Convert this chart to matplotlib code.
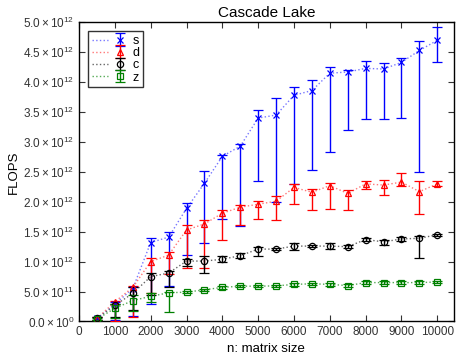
import matplotlib
matplotlib.use('Agg')
import matplotlib.pyplot as plt
from matplotlib.legend_handler import HandlerTuple
import numpy as np

plt.rcParams['font.family'] = ['Liberation Sans', 'DejaVu Sans']
plt.rcParams['mathtext.fontset'] = 'custom'
plt.rcParams['mathtext.rm'] = 'Liberation Sans'
plt.rcParams['mathtext.it'] = 'Liberation Sans'

# matrix sizes
n = [500, 1000, 1500, 2000, 2500, 3000, 3500, 4000, 4500, 5000,
     5500, 6000, 6500, 7000, 7500, 8000, 8500, 9000, 9500, 10000]

# FLOPS in units of 1e12: mean, lower end, upper end of error bar
s_mean = [0.05, 0.29, 0.55, 1.32, 1.41, 1.89, 2.31, 2.76, 2.93, 3.40,
          3.45, 3.78, 3.86, 4.15, 4.17, 4.23, 4.22, 4.33, 4.53, 4.70]
s_low = [0.03, 0.03, 0.09, 0.30, 0.59, 1.11, 1.32, 1.72, 1.59, 2.35,
         2.00, 2.30, 2.53, 2.83, 3.20, 3.38, 3.39, 3.40, 2.50, 4.34]
s_high = [0.07, 0.32, 0.58, 1.39, 1.49, 1.98, 2.51, 2.79, 2.96, 3.53,
          3.73, 3.92, 4.03, 4.25, 4.21, 4.35, 4.32, 4.40, 4.68, 4.92]

d_mean = [0.05, 0.33, 0.57, 1.00, 1.11, 1.53, 1.63, 1.81, 1.91, 1.96,
          2.01, 2.24, 2.16, 2.27, 2.14, 2.30, 2.28, 2.33, 2.17, 2.30]
d_low = [0.03, 0.01, 0.08, 0.47, 0.79, 0.89, 0.89, 1.37, 1.61, 1.71,
         1.69, 1.97, 1.87, 1.88, 1.86, 2.21, 2.12, 2.27, 1.80, 2.26]
d_high = [0.07, 0.35, 0.60, 1.06, 1.16, 1.61, 1.70, 1.87, 1.95, 2.02,
          2.09, 2.30, 2.21, 2.31, 2.19, 2.34, 2.36, 2.48, 2.34, 2.34]

c_mean = [0.05, 0.27, 0.47, 0.75, 0.81, 1.01, 1.01, 1.04, 1.10, 1.21,
          1.21, 1.26, 1.26, 1.26, 1.25, 1.37, 1.33, 1.38, 1.39, 1.45]
c_low = [0.03, 0.08, 0.19, 0.44, 0.58, 0.92, 0.81, 1.00, 1.06, 1.10,
         1.19, 1.20, 1.24, 1.21, 1.22, 1.34, 1.27, 1.34, 1.06, 1.43]
c_high = [0.07, 0.30, 0.57, 0.81, 0.84, 1.05, 1.09, 1.09, 1.14, 1.24,
          1.23, 1.31, 1.28, 1.31, 1.28, 1.40, 1.37, 1.42, 1.43, 1.47]

z_mean = [0.04, 0.22, 0.35, 0.42, 0.48, 0.49, 0.53, 0.57, 0.59, 0.59,
          0.595, 0.62, 0.63, 0.62, 0.60, 0.65, 0.65, 0.65, 0.65, 0.66]
z_low = [0.02, 0.05, 0.18, 0.33, 0.16, 0.47, 0.51, 0.55, 0.57, 0.57,
         0.58, 0.60, 0.61, 0.60, 0.58, 0.63, 0.63, 0.63, 0.63, 0.64]
z_high = [0.06, 0.29, 0.44, 0.47, 0.50, 0.51, 0.55, 0.59, 0.61, 0.61,
          0.61, 0.64, 0.65, 0.64, 0.62, 0.67, 0.67, 0.67, 0.67, 0.68]

series = [
    ('s', s_mean, s_low, s_high, 'blue', 'x', '#7777ff'),
    ('d', d_mean, d_low, d_high, 'red', '^', '#ff7777'),
    ('c', c_mean, c_low, c_high, 'black', 'o', '#666666'),
    ('z', z_mean, z_low, z_high, 'green', 's', '#55aa55'),
]

fig = plt.figure(figsize=(4.57, 3.6), dpi=100)
ax = fig.add_axes([0.173, 0.107, 0.820, 0.831])

handles = []
labels = []
for label, m, lo, hi, col, mk, lcol in series:
    m = np.array(m) * 1e12
    lo = np.array(lo) * 1e12
    hi = np.array(hi) * 1e12
    ln, = ax.plot(n, m, linestyle=':', color=lcol, linewidth=1.0, zorder=2)
    eb = ax.errorbar(n, m, yerr=[m - lo, hi - m], fmt=mk, color=col,
                     markerfacecolor='none', markersize=4.5, markeredgewidth=0.9,
                     ecolor=col, elinewidth=1.0, capsize=3.5, capthick=1.0,
                     zorder=3)
    handles.append((ln, eb))
    labels.append(label)

leg = ax.legend(handles, labels, handler_map={tuple: HandlerTuple(ndivide=None)},
                loc='upper left', fontsize=9, frameon=True, fancybox=False,
                edgecolor='black', handlelength=2.9, handleheight=0.8,
                borderaxespad=0.0, labelspacing=0.0, handletextpad=0.3,
                borderpad=0.3, bbox_to_anchor=(0.025, 0.97))
leg.get_frame().set_linewidth(1.0)

ax.set_xlim(0, 10460)
ax.set_ylim(0, 5e12)
ax.set_xticks(range(0, 10001, 1000))
yt = np.arange(0, 5.01, 0.5)
ax.set_yticks(yt * 1e12)
ylabels = [r'$0.0\times10^{0}$'] + [
    r'$%.1f\times10^{11}$' % (v * 10) if v < 1 else r'$%.1f\times10^{12}$' % v
    for v in yt[1:]]
ax.set_yticklabels(ylabels)
ax.tick_params(direction='in', top=True, right=True, labelsize=8.5,
               length=4, width=0.8, colors='#333333', labelcolor='#333333')
for sp in ax.spines.values():
    sp.set_linewidth(1.0)

ax.set_title('Cascade Lake', fontsize=11, pad=4)
ax.set_xlabel('n: matrix size', fontsize=9.5, labelpad=3)
ax.set_ylabel('FLOPS', fontsize=9.5, labelpad=2)

fig.savefig('out.png', dpi=100)
